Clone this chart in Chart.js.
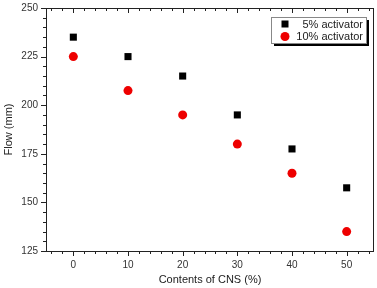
<!DOCTYPE html>
<html>
<head>
<meta charset="utf-8">
<script src="https://cdn.jsdelivr.net/npm/chart.js@4"></script>
<style>
  html, body { margin: 0; padding: 0; background: #fff; }
  #wrap { width: 377px; height: 288px; }
</style>
</head>
<body>
<div id="wrap"><canvas id="chart"></canvas></div>
<script>
// data
const cnsContent = [0, 10, 20, 30, 40, 50];
const flow5 = [235, 225, 215, 195, 177.5, 157.5];
const flow10 = [225, 207.5, 195, 180, 165, 135];
const xTickLabels = [0, 10, 20, 30, 40, 50];
const yTickLabels = [125, 150, 175, 200, 225, 250];
const seriesNames = ['5% activator', '10% activator'];

const FONT = "'Liberation Sans', Arial, sans-serif";

// frame, minor/major ticks and boxed legend
const framePlugin = {
  id: 'frame',
  afterDraw(chart) {
    const { ctx, chartArea: a, scales: { x, y } } = chart;
    ctx.save();
    ctx.strokeStyle = '#222';
    ctx.lineWidth = 1;
    ctx.strokeRect(Math.round(a.left) + 0.5, Math.round(a.top) + 0.5,
      Math.round(a.right - a.left) - 1, Math.round(a.bottom - a.top));

    ctx.beginPath();
    for (let v = -4; v <= 54; v += 2) {
      const px = Math.round(x.getPixelForValue(v)) + 0.5;
      const len = v % 10 === 0 ? 5 : 3;
      ctx.moveTo(px, a.bottom);
      ctx.lineTo(px, a.bottom + len);
      ctx.moveTo(px, a.top);
      ctx.lineTo(px, a.top + len);
    }
    for (let v = 125; v <= 250; v += 5) {
      const py = Math.round(y.getPixelForValue(v)) + 0.5;
      const len = v % 25 === 0 ? 5 : 3;
      ctx.moveTo(a.left, py);
      ctx.lineTo(a.left - len, py);
    }
    ctx.stroke();

    // legend
    const lx = 271, ly = 17, lw = 95, lh = 26;
    ctx.fillStyle = '#000';
    ctx.fillRect(lx + 3, ly + 3, lw, lh);
    ctx.fillStyle = '#fff';
    ctx.fillRect(lx, ly, lw, lh);
    ctx.strokeStyle = '#888';
    ctx.strokeRect(lx + 0.5, ly + 0.5, lw, lh);

    ctx.font = '11px ' + FONT;
    ctx.textAlign = 'right';
    ctx.textBaseline = 'middle';
    chart.data.datasets.forEach((ds, i) => {
      const cy = ly + 7 + i * 12.5;
      ctx.fillStyle = ds.backgroundColor;
      if (ds.pointStyle === 'rect') {
        ctx.fillRect(285 - 3.5, cy - 3.5, 7, 7);
      } else {
        ctx.beginPath();
        ctx.arc(285, cy, 4.5, 0, Math.PI * 2);
        ctx.fill();
      }
      ctx.fillStyle = '#222';
      ctx.fillText(ds.label, 363, cy + 0.5);
    });
    ctx.restore();
  }
};

new Chart(document.getElementById('chart'), {
  type: 'scatter',
  data: {
    datasets: [
      {
        label: seriesNames[0],
        data: cnsContent.map((c, i) => ({ x: c, y: flow5[i] })),
        pointStyle: 'rect',
        pointRadius: 5,
        pointHoverRadius: 5,
        backgroundColor: '#000',
        borderColor: '#000',
        borderWidth: 0
      },
      {
        label: seriesNames[1],
        data: cnsContent.map((c, i) => ({ x: c, y: flow10[i] })),
        pointStyle: 'circle',
        pointRadius: 4.5,
        pointHoverRadius: 4.5,
        backgroundColor: '#ee0000',
        borderColor: '#ee0000',
        borderWidth: 0
      }
    ]
  },
  options: {
    responsive: true,
    maintainAspectRatio: false,
    animation: false,
    layout: { autoPadding: false, padding: { left: 0, right: 3, top: 8, bottom: 0 } },
    plugins: {
      legend: { display: false },
      tooltip: { enabled: false }
    },
    scales: {
      x: {
        type: 'linear',
        min: -5,
        max: 55,
        grid: { display: false, drawTicks: false },
        border: { display: false },
        afterBuildTicks: (scale) => { scale.ticks = xTickLabels.map(v => ({ value: v })); },
        afterFit: (scale) => {
          scale.height = 37;
          scale.paddingLeft = 0;
          scale.paddingRight = 0;
        },
        ticks: { padding: 8, color: '#333', font: { family: FONT, size: 10 } },
        title: {
          display: true,
          text: 'Contents of CNS (%)',
          color: '#222',
          padding: { top: 0, bottom: 1 },
          font: { family: FONT, size: 11 }
        }
      },
      y: {
        min: 125,
        max: 250,
        grid: { display: false, drawTicks: false },
        border: { display: false },
        afterBuildTicks: (scale) => { scale.ticks = yTickLabels.map(v => ({ value: v })); },
        afterFit: (scale) => {
          scale.width = 46;
          scale.paddingTop = 0;
          scale.paddingBottom = 0;
        },
        ticks: { padding: 8, color: '#333', font: { family: FONT, size: 10 } },
        title: {
          display: true,
          text: 'Flow (mm)',
          color: '#222',
          padding: { top: 2, bottom: 0 },
          font: { family: FONT, size: 11 }
        }
      }
    }
  },
  plugins: [framePlugin]
});
</script>
</body>
</html>
